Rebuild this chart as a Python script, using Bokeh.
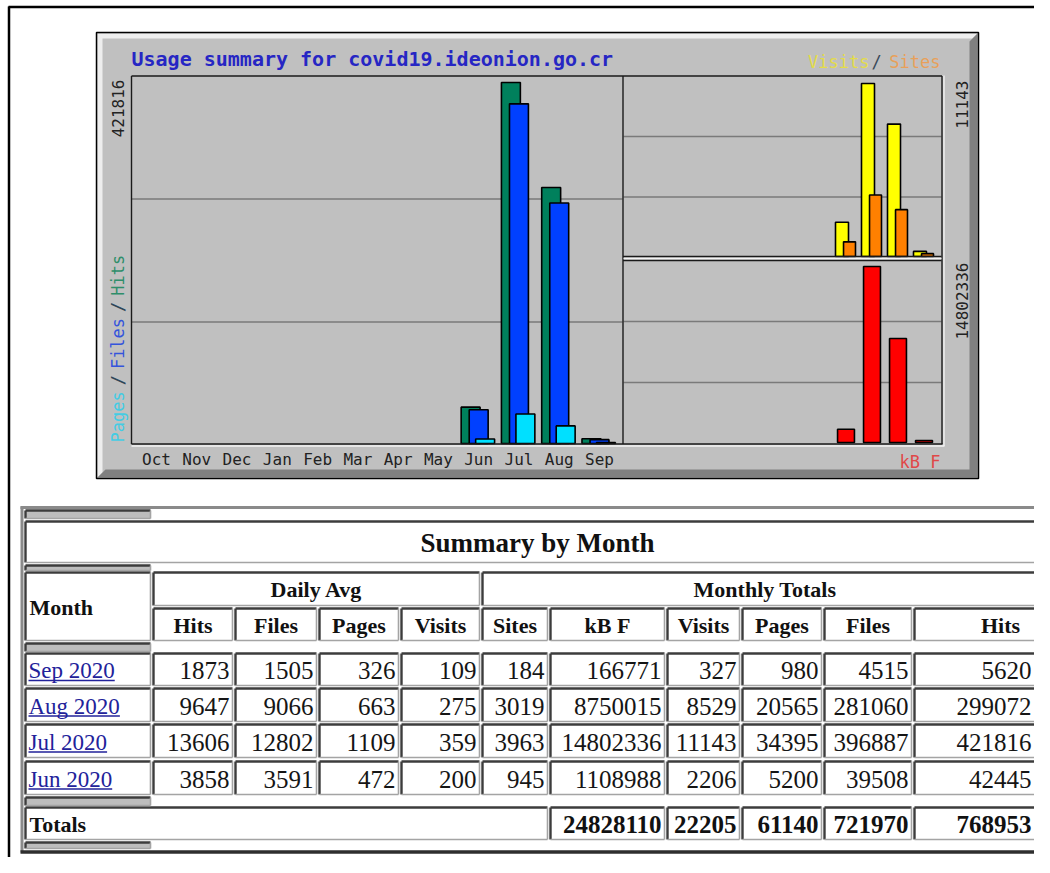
import math
from bokeh.plotting import figure
from bokeh.models import Range1d, ColumnDataSource
from bokeh.transform import dodge
from bokeh.embed import file_html
from bokeh.resources import INLINE
from bokeh.core.properties import value

# ---------------- chart data (Oct 2019 .. Sep 2020) ----------------
months = ["Oct", "Nov", "Dec", "Jan", "Feb", "Mar", "Apr", "May", "Jun", "Jul", "Aug", "Sep"]
hits = [0, 0, 0, 0, 0, 0, 0, 0, 42445, 421816, 299072, 5620]
files = [0, 0, 0, 0, 0, 0, 0, 0, 39508, 396887, 281060, 4515]
pages = [0, 0, 0, 0, 0, 0, 0, 0, 5200, 34395, 20565, 980]
visits = [0, 0, 0, 0, 0, 0, 0, 0, 2206, 11143, 8529, 327]
sites = [0, 0, 0, 0, 0, 0, 0, 0, 945, 3963, 3019, 184]
kbytes = [0, 0, 0, 0, 0, 0, 0, 0, 1108988, 14802336, 8750015, 166771]
chart_title = "Usage summary for covid19.ideonion.go.cr"

# ---------------- table data ----------------
table_title = "Summary by Month"
row_months = ["Sep 2020", "Aug 2020", "Jul 2020", "Jun 2020"]
avg_hits = [1873, 9647, 13606, 3858]
avg_files = [1505, 9066, 12802, 3591]
avg_pages = [326, 663, 1109, 472]
avg_visits = [109, 275, 359, 200]
tot_sites = [184, 3019, 3963, 945]
tot_kbytes = [166771, 8750015, 14802336, 1108988]
tot_visits = [327, 8529, 11143, 2206]
tot_pages = [980, 20565, 34395, 5200]
tot_files = [4515, 281060, 396887, 39508]
tot_hits = [5620, 299072, 421816, 42445]
totals = [24828110, 22205, 61140, 721970, 768953]
col_heads = ["Hits", "Files", "Pages", "Visits", "Sites", "kB F", "Visits", "Pages", "Files", "Hits"]

# ---------------- canvas ----------------
W, H = 1034, 857
OX, OY = 0, 0
p = figure(width=W, height=H, output_backend="svg", toolbar_location=None, tools="",
           x_range=Range1d(OX, OX + W), y_range=Range1d(OY + H, OY),
           x_axis_location=None, y_axis_location=None, min_border=0,
           background_fill_color="white", border_fill_color="white")
p.outline_line_color = None
p.grid.visible = False


def fit_range(v0, px0, v1, px1, f_start, f_end):
    k = (v1 - v0) / (px1 - px0)
    return Range1d(start=v0 + (f_start - px0) * k, end=v0 + (f_end - px0) * k)


p.extra_x_ranges = {
    "main": fit_range(0, 156, 11, 599, OX, OX + W),
    "side": fit_range(8, 845.5, 11, 923.5, OX, OX + W),
}
p.extra_y_ranges = {
    "hits": fit_range(0, 443, max(hits), 82, OY + H, OY),
    "visits": fit_range(0, 256, max(visits), 83, OY + H, OY),
    "kb": fit_range(0, 442, max(kbytes), 266, OY + H, OY),
}

MONO = value("DejaVu Sans Mono")
SERIF = value("Liberation Serif")

# page frame (top / left black lines)
p.segment(x0=[8, 8.5], y0=[6.5, 6], x1=[OX + W, 8.5], y1=[6.5, OY + H], line_color="black", line_width=2.5)

# ---------------- chart panel ----------------
p.quad(left=[96], right=[978], top=[32], bottom=[478], fill_color="#c0c0c0", line_color=None)
p.patch(x=[97, 977, 972, 102, 102, 97], y=[33, 33, 38, 38, 472, 477], fill_color="#eeeeee", line_color=None)
p.patch(x=[977, 977, 97, 105, 969, 969], y=[33, 477, 477, 469, 469, 41], fill_color="#808080", line_color=None)
p.quad(left=[96], right=[978], top=[32], bottom=[478], fill_color=None, line_color="black", line_width=1.5)

# grid lines
p.segment(x0=[131, 131, 623, 623, 623, 623], y0=[198.5, 321.5, 136, 196.5, 321, 382],
          x1=[622, 622, 941, 941, 941, 941], y1=[198.5, 321.5, 136, 196.5, 321, 382],
          line_color="#7a7a7a", line_width=1.3)

src = ColumnDataSource(dict(
    idx=list(range(len(months))), m=months,
    hits=hits, files=files, pages=pages, visits=visits, sites=sites, kb=kbytes,
    ha=[1 if v > 0 else 0 for v in hits], fa=[1 if v > 0 else 0 for v in files],
    pa=[1 if v > 0 else 0 for v in pages], va=[1 if v > 0 else 0 for v in visits],
    sa=[1 if v > 0 else 0 for v in sites], ka=[1 if v > 0 else 0 for v in kbytes],
))

bar_kw = dict(source=src, bottom=0, line_color="black", line_width=1.6)
p.vbar(x=dodge("idx", -0.2), width=0.47, top="hits", fill_color="#00805C", fill_alpha="ha", line_alpha="ha",
       x_range_name="main", y_range_name="hits", **bar_kw)
p.vbar(x=dodge("idx", 0.0), width=0.47, top="files", fill_color="#0040FF", fill_alpha="fa", line_alpha="fa",
       x_range_name="main", y_range_name="hits", **bar_kw)
p.vbar(x=dodge("idx", 0.16), width=0.47, top="pages", fill_color="#00E0FF", fill_alpha="pa", line_alpha="pa",
       x_range_name="main", y_range_name="hits", **bar_kw)
p.vbar(x=dodge("idx", -0.154), width=0.5, top="visits", fill_color="#FFFF00", fill_alpha="va", line_alpha="va",
       x_range_name="side", y_range_name="visits", **bar_kw)
p.vbar(x=dodge("idx", 0.135), width=0.46, top="sites", fill_color="#FF8000", fill_alpha="sa", line_alpha="sa",
       x_range_name="side", y_range_name="visits", **bar_kw)
p.vbar(x="idx", width=0.65, top="kb", fill_color="#FF0000", fill_alpha="ka", line_alpha="ka",
       x_range_name="side", y_range_name="kb", **bar_kw)

# area borders
p.segment(x0=[131, 131, 622.5, 131, 622.5, 622.5, 941.5],
          y0=[75.5, 75.5, 75.5, 443.5, 256, 260, 75.5],
          x1=[941.5, 131, 622.5, 942, 941, 941, 941.5],
          y1=[75.5, 443.5, 443.5, 443.5, 256, 260, 443.5],
          line_color="#1a1a1a", line_width=1.4)
p.segment(x0=[131, 943.5, 623], y0=[445.5, 75, 258], x1=[944, 943.5, 941], y1=[445.5, 445.5, 258],
          line_color="#f4f4f4", line_width=1.3)

# chart texts
p.text(x=[131], y=[58], text=[chart_title], text_font=MONO, text_font_style="bold", text_font_size="20px",
       text_color="#2626c4", text_align="left", text_baseline="middle")
p.text(x=[869], y=[61], text=["Visits"], text_font=MONO, text_font_size="17px", text_color="#e4dc4a",
       text_align="right", text_baseline="middle")
p.text(x=[876], y=[61], text=["/"], text_font=MONO, text_font_size="17px", text_color="#3a4a5a",
       text_align="center", text_baseline="middle")
p.text(x=[940], y=[61], text=["Sites"], text_font=MONO, text_font_size="17px", text_color="#e8a05a",
       text_align="right", text_baseline="middle")
p.text(x=[940], y=[461], text=["kB F"], text_font=MONO, text_font_size="17px", text_color="#e04848",
       text_align="right", text_baseline="middle")

p.text(x="idx", y=459, text="m", source=src, x_range_name="main", text_font=MONO, text_font_size="16px",
       text_color="#222222", text_align="center", text_baseline="middle")

p.text(x=[117.5, 961, 961], y=[79, 80, 262],
       text=[str(max(hits)), str(max(visits)), str(max(kbytes))],
       angle=math.pi / 2, text_font=MONO, text_font_size="16px", text_color="#222222",
       text_align="right", text_baseline="middle")

legend_parts = [("Pages", "#44cce4"), ("/", "#2e4658"), ("Files", "#3454dc"), ("/", "#2e4658"), ("Hits", "#2e8e6a")]
adv = 17 * 0.602
ycur = 442
lx, ly, lt, lc = [], [], [], []
for txt, col in legend_parts:
    lx.append(117.5); ly.append(ycur); lt.append(txt); lc.append(col)
    ycur -= len(txt) * adv + 6
p.text(x=lx, y=ly, text=lt, text_color=lc, angle=math.pi / 2, text_font=MONO, text_font_size="17px",
       text_align="left", text_baseline="middle")

# ---------------- table ----------------
cols = [(25, 150), (153, 232), (235, 316), (319, 398), (401, 479), (482, 547),
        (550, 664), (667, 739), (742, 821), (824, 911), (914, 1047)]
R_SP1, R_TITLE, R_SP2 = (510, 518), (521, 562), (565, 570)
R_HA, R_HB, R_SP3 = (572, 605), (608, 640), (643, 651)
R_DATA = [(653, 685), (688, 721), (724, 757), (761, 794)]
R_SP4, R_TOT, R_SP5 = (797, 805), (807, 839), (842, 848)
VIS_R = 1031  # right-most visible text edge inside the page


def text_right(c):
    return min(c[1] - 3, VIS_R)


cells = []


def cell(l, r, t, b, fill="white"):
    cells.append((l, r, t, b, fill))


for rr in (R_SP1, R_SP2, R_SP3, R_SP4, R_SP5):
    cell(cols[0][0], cols[0][1], rr[0], rr[1], "#bdbdbd")
cell(cols[0][0], cols[-1][1], R_TITLE[0], R_TITLE[1])
cell(cols[0][0], cols[0][1], R_HA[0], R_HB[1])
cell(cols[1][0], cols[4][1], R_HA[0], R_HA[1])
cell(cols[5][0], cols[10][1], R_HA[0], R_HA[1])
for c in cols[1:]:
    cell(c[0], c[1], R_HB[0], R_HB[1])
for rr in R_DATA:
    for c in cols:
        cell(c[0], c[1], rr[0], rr[1])
cell(cols[0][0], cols[5][1], R_TOT[0], R_TOT[1])
for c in cols[6:]:
    cell(c[0], c[1], R_TOT[0], R_TOT[1])

p.quad(left=[c[0] for c in cells], right=[c[1] for c in cells], top=[c[2] for c in cells],
       bottom=[c[3] for c in cells], fill_color=[c[4] for c in cells], line_color=None)
dx0, dy0, dx1, dy1 = [], [], [], []
lx0, ly0, lx1, ly1 = [], [], [], []
for (l, r, t, b, f) in cells:
    dx0 += [l, l]; dy0 += [t, t]; dx1 += [r, l]; dy1 += [t, b]
    lx0 += [l, r]; ly0 += [b, t]; lx1 += [r, r]; ly1 += [b, b]
p.segment(x0=dx0, y0=dy0, x1=dx1, y1=dy1, line_color="#3c3c3c", line_width=2.4)
p.segment(x0=lx0, y0=ly0, x1=lx1, y1=ly1, line_color="#a4a4a4", line_width=1.6)

# table outer border
p.segment(x0=[20, 21.5], y0=[507, 506], x1=[1050, 21.5], y1=[507, 852], line_color="#8a8a8a", line_width=3)
p.segment(x0=[20], y0=[851.5], x1=[1050], y1=[851.5], line_color="#2e2e2e", line_width=3.5)

# table texts
p.text(x=[537], y=[542], text=[table_title], text_font=SERIF, text_font_style="bold",
       text_font_size="27px", text_color="#111111", text_align="center", text_baseline="middle")
p.text(x=[(cols[1][0] + cols[4][1]) / 2, (cols[5][0] + cols[10][1]) / 2], y=[589, 589],
       text=["Daily Avg", "Monthly Totals"], text_font=SERIF, text_font_style="bold", text_font_size="22px",
       text_color="#111111", text_align="center", text_baseline="middle")
p.text(x=[29], y=[607], text=["Month"], text_font=SERIF, text_font_style="bold", text_font_size="22px",
       text_color="#111111", text_align="left", text_baseline="middle")
hx = [(c[0] + c[1]) / 2 for c in cols[1:]]
hx[-1] = 1000
p.text(x=hx, y=[625] * len(col_heads), text=col_heads, text_font=SERIF,
       text_font_style="bold", text_font_size="22px", text_color="#111111", text_align="center",
       text_baseline="middle")

series = [avg_hits, avg_files, avg_pages, avg_visits, tot_sites, tot_kbytes, tot_visits, tot_pages, tot_files, tot_hits]
nx, ny, nt = [], [], []
for ri, rr in enumerate(R_DATA):
    yc = (rr[0] + rr[1]) / 2 + 1
    for ci, s in enumerate(series):
        nx.append(text_right(cols[ci + 1])); ny.append(yc); nt.append(str(s[ri]))
p.text(x=nx, y=ny, text=nt, text_font=SERIF, text_font_size="25px", text_color="#151515",
       text_align="right", text_baseline="middle")

times_w = {"S": .556, "e": .444, "p": .5, " ": .25, "A": .722, "u": .5, "g": .5, "J": .389, "l": .278, "n": .5}
link_fs = 23
mx_, my_, ux0, ux1, uy = [], [], [], [], []
for ri, rr in enumerate(R_DATA):
    yc = (rr[0] + rr[1]) / 2 + 1
    mx_.append(28); my_.append(yc)
    wdt = sum(times_w.get(ch, 0.5) for ch in row_months[ri]) * link_fs
    ux0.append(28); ux1.append(28 + wdt); uy.append(yc + 10)
p.text(x=mx_, y=my_, text=row_months, text_font=SERIF, text_font_size="23px", text_color="#22229a",
       text_align="left", text_baseline="middle")
p.segment(x0=ux0, y0=uy, x1=ux1, y1=uy, line_color="#22229a", line_width=1.6)

yt = (R_TOT[0] + R_TOT[1]) / 2 + 1
p.text(x=[29], y=[yt], text=["Totals"], text_font=SERIF, text_font_style="bold", text_font_size="22px",
       text_color="#111111", text_align="left", text_baseline="middle")
p.text(x=[text_right(c) for c in cols[6:]], y=[yt] * len(totals), text=[str(v) for v in totals], text_font=SERIF,
       text_font_style="bold", text_font_size="25px", text_color="#111111", text_align="right",
       text_baseline="middle")

open("out.html", "w").write(file_html(p, INLINE))
